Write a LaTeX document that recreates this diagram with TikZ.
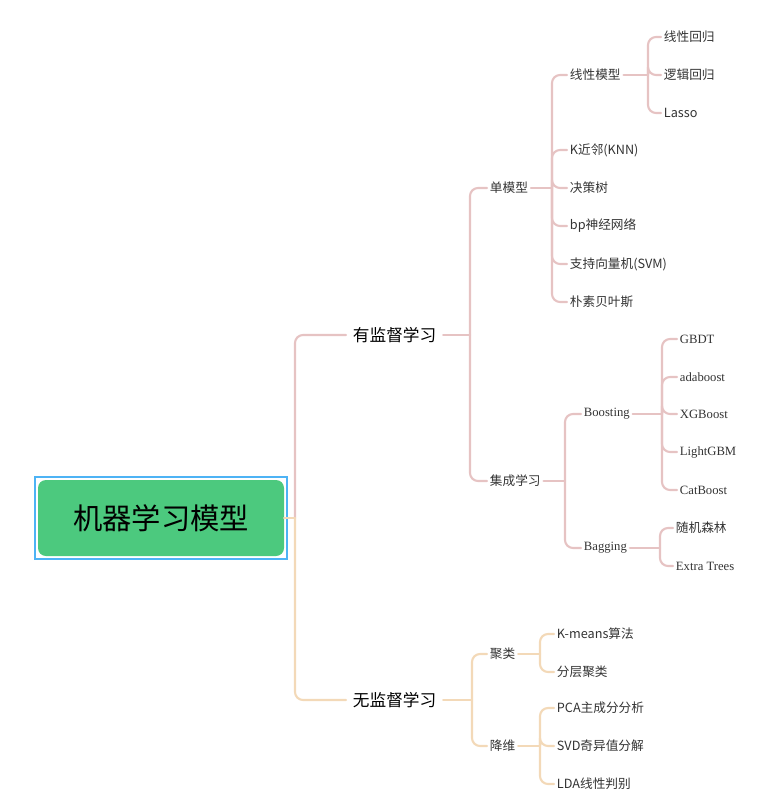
\documentclass[tikz,border=0pt]{standalone}
\usepackage{fontspec}
\setmainfont{Noto Sans CJK SC}
\newfontfamily\latin{Liberation Serif}
\begin{document}
\begin{tikzpicture}[x=0.75pt,y=-0.75pt]
        %colores
        \colorlet{pk}{red!45!black!25!white}
        \definecolor{pk}{HTML}{E6C3C3}
        \definecolor{og}{HTML}{F3D9B8}
        \definecolor{gr}{HTML}{4CC97E}
        \definecolor{bl}{HTML}{4DB3F5}
        \tikzset{leaf/.style={anchor=west,inner xsep=2pt,inner ysep=1pt,font=\fontsize{9.5}{11}\selectfont,text=black!80},
                 mid/.style={leaf,inner xsep=5pt,font=\fontsize{12.5}{14}\selectfont,text=black},
                 br/.style={line width=1.6pt,line cap=round}}
        \useasboundingbox (0,0) rectangle (780,810);

        % Raiz
        \draw[bl,line width=1pt] (35,477) rectangle (287,559);
        \node[fill=gr,rounded corners=6pt,minimum width=184.5pt,minimum height=57pt,font=\fontsize{22}{24}\selectfont] (root) at (161,518) {机器学习模型};

        % Nodos
        \node[mid] (sup) at (346,335) {有监督学习};
        \node[mid] (uns) at (346,700) {无监督学习};
        \node[leaf] (single) at (487,188) {单模型};
        \node[leaf] (ens) at (487,481) {集成学习};
        \node[leaf] (lin) at (567,75) {线性模型};
        \foreach \n/\y/\t in {knn/150/K近邻(KNN),tree/188/决策树,bp/226/bp神经网络,svm/264/支持向量机(SVM),nb/302/朴素贝叶斯}
            \node[leaf] (\n) at (567,\y) {\t};
        \foreach \n/\y/\t in {lr/37/线性回归,log/75/逻辑回归,lasso/113/Lasso}
            \node[leaf] (\n) at (661,\y) {\t};
        \node[leaf] (boost) at (581,414) {\latin Boosting};
        \node[leaf] (bag) at (581,548) {\latin Bagging};
        \foreach \n/\y/\t in {gbdt/339/GBDT,ada/377/adaboost,xgb/414/XGBoost,lgb/452/LightGBM,cat/490/CatBoost}
            \node[leaf] (\n) at (677,\y) {\latin \t};
        \node[leaf] (rf) at (673,528) {随机森林};
        \node[leaf] (et) at (673,566) {\latin Extra Trees};
        \node[leaf] (clu) at (487,654) {聚类};
        \node[leaf] (dim) at (487,746) {降维};
        \node[leaf] (km) at (554,634) {K-means算法};
        \node[leaf] (hc) at (554,672) {分层聚类};
        \foreach \n/\y/\t in {pca/708/PCA主成分分析,svd/746/SVD奇异值分解,lda/784/LDA线性判别}
            \node[leaf] (\n) at (554,\y) {\t};

        % Ramas
        \foreach \p/\vx/\c/\kids in {root/295/pk/sup,root/295/og/uns,sup/470/pk/{single,ens},
                 single/552/pk/{lin,knn,tree,bp,svm,nb},lin/648/pk/{lr,log,lasso},
                 ens/565/pk/{boost,bag},boost/662/pk/{gbdt,ada,xgb,lgb,cat},bag/660/pk/{rf,et},
                 uns/472/og/{clu,dim},clu/540/og/{km,hc},dim/540/og/{pca,svd,lda}}{
            \draw[br,\c] (\p.east) -- (\vx,0 |- \p.east) coordinate (t);
            \foreach \k in \kids
                \draw[br,\c,rounded corners=6pt] (t) |- (\k.west);
        }
    \end{tikzpicture}
\end{document}
